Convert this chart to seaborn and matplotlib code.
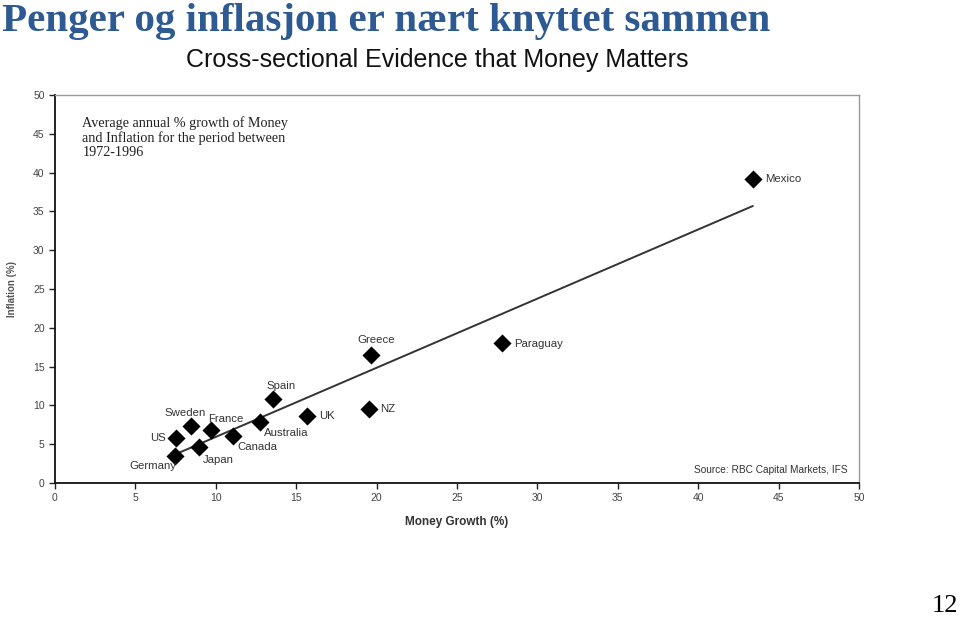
import matplotlib.pyplot as plt
import seaborn as sns
import pandas as pd

land = ["Mexico", "Paraguay", "Greece", "NZ", "UK", "Spain", "Australia",
        "Canada", "France", "Sweden", "US", "Japan", "Germany"]
pengevekst = [43.4, 27.8, 19.65, 19.5, 15.7, 13.55, 12.75, 11.1, 9.7, 8.45, 7.5, 8.95, 7.45]
inflasjon = [39.2, 18.0, 16.5, 9.5, 8.6, 10.8, 7.9, 6.1, 6.8, 7.3, 5.8, 4.6, 3.5]

# trendlinje, endepunkter lest av figuren
trend_x = [7.6, 43.4]
trend_y = [3.8, 35.7]

ticks = [0, 5, 10, 15, 20, 25, 30, 35, 40, 45, 50]

# hvor etiketten skal stå i forhold til punktet (piksler)
etikett_pos = {
    "Mexico": (12, 0, "left", "center"),
    "Paraguay": (12, -1, "left", "center"),
    "Greece": (5, 10, "center", "bottom"),
    "NZ": (12, 0, "left", "center"),
    "UK": (12, 0, "left", "center"),
    "Spain": (8, 8, "center", "bottom"),
    "Australia": (4, -6, "left", "top"),
    "Canada": (4, -6, "left", "top"),
    "France": (-3, 6, "left", "bottom"),
    "Sweden": (-6, 8, "center", "bottom"),
    "US": (-10, 0, "right", "center"),
    "Japan": (4, -8, "left", "top"),
    "Germany": (2, -5, "right", "top"),
}

df = pd.DataFrame({"land": land, "x": pengevekst, "y": inflasjon})

sns.set_style("white")
plt.rcParams["font.family"] = ["Liberation Sans", "DejaVu Sans"]

fig = plt.figure(figsize=(9.6, 6.19), dpi=100)
ax = fig.add_axes([55 / 960, 1 - 483 / 619, 804 / 960, 388 / 619])

ax.plot(trend_x, trend_y, color="#333333", lw=1.4, zorder=1)
sns.scatterplot(data=df, x="x", y="y", marker="D", s=85, color="black",
                edgecolor="black", linewidth=0, ax=ax, zorder=2)

for _, r in df.iterrows():
    dx, dy, ha, va = etikett_pos[r["land"]]
    ax.annotate(r["land"], (r["x"], r["y"]), xytext=(dx, dy),
                textcoords="offset pixels", ha=ha, va=va, fontsize=8.2,
                color="#333333")

ax.set_xlim(0, 50)
ax.set_ylim(0, 50)
ax.set_xticks(ticks)
ax.set_yticks(ticks)
ax.tick_params(axis="both", direction="out", length=4, width=1, colors="#222222",
               labelsize=7.5, labelcolor="#444444", left=True, bottom=True)
for s in ["left", "bottom"]:
    ax.spines[s].set_color("#111111")
    ax.spines[s].set_linewidth(1.3)
for s in ["top", "right"]:
    ax.spines[s].set_color("#999999")
    ax.spines[s].set_linewidth(1)

ax.set_xlabel("Money Growth (%)", fontsize=8.5, fontweight="bold", color="#333333")
ax.set_ylabel("Inflation (%)", fontsize=7, fontweight="bold", color="#555555")
ax.xaxis.set_label_coords(0.5, -0.085)
ax.yaxis.set_label_coords(-0.047, 0.5)

ax.text(0.034, 0.945, "Average annual % growth of Money\nand Inflation for the period between\n1972-1996",
        transform=ax.transAxes, ha="left", va="top", fontsize=10.2,
        family=["Liberation Serif"], color="#222222", linespacing=1.1)
ax.text(0.986, 0.02, "Source: RBC Capital Markets, IFS", transform=ax.transAxes,
        ha="right", va="bottom", fontsize=7.3, color="#333333")

fig.text(437 / 960, 1 - 60 / 619, "Cross-sectional Evidence that Money Matters",
         ha="center", va="center", fontsize=18, color="#111111")
fig.text(2 / 960, 1 - 3 / 619, "Penger og inflasjon er nært knyttet sammen",
         ha="left", va="top", fontsize=29.5, fontweight="bold",
         family=["Liberation Serif"], color="#2E5A93")
fig.text(958 / 960, 2 / 619, "12", ha="right", va="bottom", fontsize=19,
         family=["Liberation Serif"], color="black")

fig.savefig("out.png", dpi=100)
